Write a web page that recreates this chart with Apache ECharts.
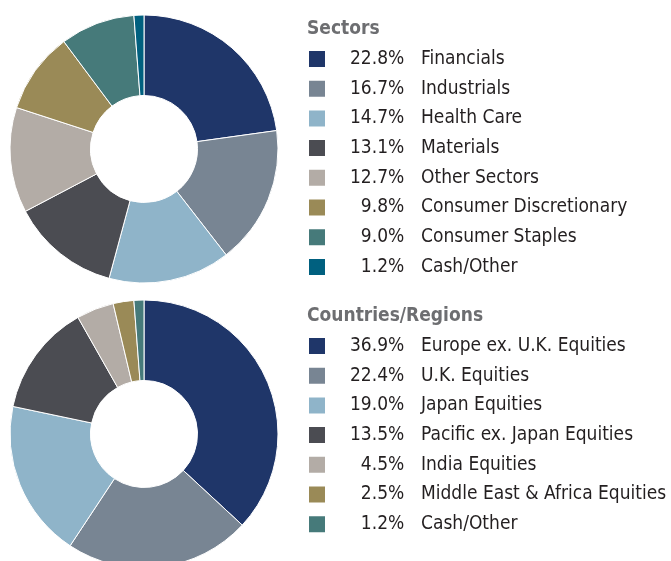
<!DOCTYPE html>
<html>
<head>
<meta charset="utf-8">
<script src="https://cdn.jsdelivr.net/npm/echarts@6/dist/echarts.min.js"></script>
<style>
  html, body { margin: 0; padding: 0; background: #fff; }
  #chart { width: 671px; height: 561px; }
</style>
</head>
<body>
<div id="chart"></div>
<script>
// allocation data, read from the factsheet
const sectorNames = ['Financials', 'Industrials', 'Health Care', 'Materials', 'Other Sectors',
  'Consumer Discretionary', 'Consumer Staples', 'Cash/Other']
const sectorValues = [22.8, 16.7, 14.7, 13.1, 12.7, 9.8, 9.0, 1.2]
const sectorColors = ['#1f3669', '#788593', '#8fb4c9', '#4b4c52', '#b3aca6', '#9a8a57', '#467a7a', '#00607f']

const regionNames = ['Europe ex. U.K. Equities', 'U.K. Equities', 'Japan Equities',
  'Pacific ex. Japan Equities', 'India Equities', 'Middle East & Africa Equities', 'Cash/Other']
const regionValues = [36.9, 22.4, 19.0, 13.5, 4.5, 2.5, 1.2]
const regionColors = ['#1f3669', '#788593', '#8fb4c9', '#4b4c52', '#b3aca6', '#9a8a57', '#467a7a']

const font = "'Liberation Sans Narrow', 'DejaVu Sans Condensed', 'Arial Narrow', sans-serif"
const textColor = '#231f20'
const fontSize = 19

const chart = echarts.init(document.getElementById('chart'))

function pieData(names, values, colors) {
  return names.map((n, i) => ({ name: n, value: values[i], itemStyle: { color: colors[i] } }))
}

// pad single-digit values with a figure space so the % column lines up on the right
function pct(v) {
  const s = v.toFixed(1) + '%'
  return v < 10 ? '\u2007' + s : s
}

function legendFor(names, values, colors, top) {
  return {
    orient: 'vertical',
    left: 307,
    top: top,
    padding: 0,
    itemWidth: 18,
    itemHeight: 18,
    itemGap: 9.7,
    icon: 'rect',
    selectedMode: false,
    data: names.map((n, i) => ({ name: n, itemStyle: { color: colors[i] } })),
    formatter: (name) => {
      const v = values[names.indexOf(name)]
      return '{p|' + pct(v) + '}{n|' + name + '}'
    },
    textStyle: {
      fontFamily: font,
      fontSize: fontSize,
      lineHeight: 18,
      color: textColor,
      rich: {
        p: { width: 56, padding: [0, 0, 0, 19], fontSize: fontSize, fontFamily: font, color: textColor, lineHeight: 18 },
        n: { padding: [0, 0, 0, 15], fontSize: fontSize, fontFamily: font, color: textColor, lineHeight: 18 }
      }
    }
  }
}

chart.setOption({
  animation: false,
  title: [{
    text: 'Sectors',
    left: 307,
    top: 19,
    padding: 0,
    textStyle: { fontFamily: font, fontSize: fontSize, fontWeight: 'bold', color: '#6d6e71', lineHeight: 20 }
  }, {
    text: 'Countries/Regions',
    left: 307,
    top: 306,
    padding: 0,
    textStyle: { fontFamily: font, fontSize: fontSize, fontWeight: 'bold', color: '#6d6e71', lineHeight: 20 }
  }],
  legend: [
    legendFor(sectorNames, sectorValues, sectorColors, 49),
    legendFor(regionNames, regionValues, regionColors, 336)
  ],
  series: [{
    name: 'Sectors',
    type: 'pie',
    center: [144, 149],
    radius: [53.5, 134],
    startAngle: 90,
    clockwise: true,
    label: { show: false },
    labelLine: { show: false },
    emphasis: { disabled: true },
    itemStyle: { borderColor: '#fff', borderWidth: 1 },
    data: pieData(sectorNames, sectorValues, sectorColors)
  }, {
    name: 'Countries/Regions',
    type: 'pie',
    center: [144, 434],
    radius: [53.5, 134],
    startAngle: 90,
    clockwise: true,
    label: { show: false },
    labelLine: { show: false },
    emphasis: { disabled: true },
    itemStyle: { borderColor: '#fff', borderWidth: 1 },
    data: pieData(regionNames, regionValues, regionColors)
  }]
})
</script>
</body>
</html>
